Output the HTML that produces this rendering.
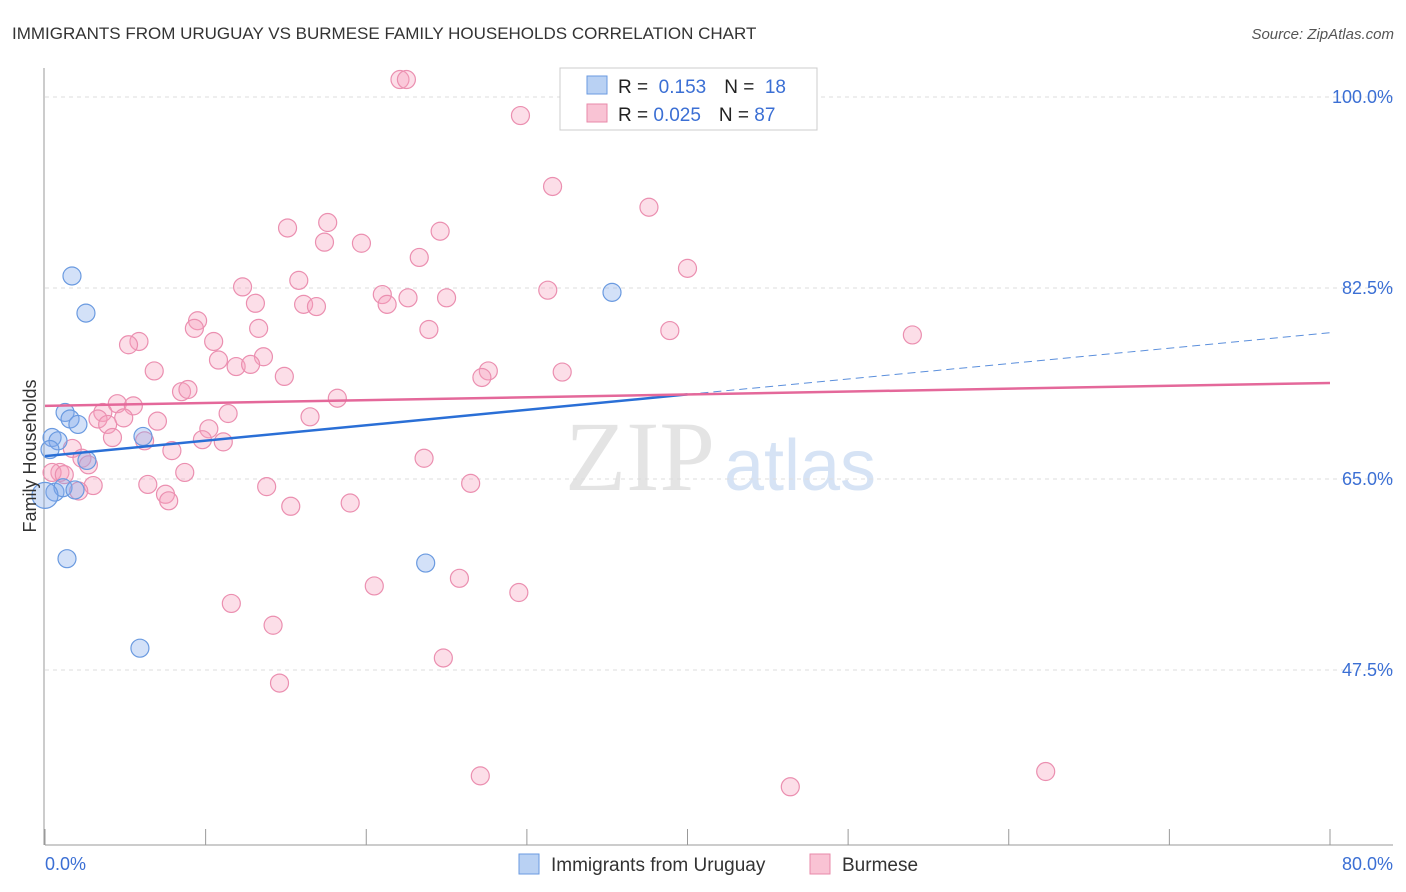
<!DOCTYPE html>
<html><head><meta charset="utf-8"><style>
body{margin:0;background:#fff;font-family:"Liberation Sans",sans-serif;}
#wrap{position:relative;width:1406px;height:892px;overflow:hidden;}
</style></head><body>
<div id="wrap">
<svg id="chart" width="1406" height="892" xmlns="http://www.w3.org/2000/svg">
<text x="12" y="39" font-size="17" fill="#333">IMMIGRANTS FROM URUGUAY VS BURMESE FAMILY HOUSEHOLDS CORRELATION CHART</text>
<text x="1394" y="39" font-size="15" fill="#555" font-style="italic" text-anchor="end">Source: ZipAtlas.com</text>
<text x="640" y="490" font-size="100" fill="#e4e4e4" font-family="Liberation Serif" text-anchor="middle">ZIP</text>
<text x="800" y="490" font-size="72" fill="#d6e3f5" text-anchor="middle">atlas</text>
<g id="grid"></g><g id="axes"></g><g id="pts"></g><g id="trend"></g>
<text x="36" y="456" font-size="18" fill="#333" text-anchor="middle" transform="rotate(-90 36 456)">Family Households</text>
<g>
<rect x="560" y="68" width="257" height="62" fill="#fff" stroke="#ccc"/>
<rect x="587" y="76" width="20" height="18" fill="#b9d1f3" stroke="#6a9ae0"/>
<rect x="587" y="104" width="20" height="18" fill="#f9c3d4" stroke="#e88aaa"/>
<text x="618" y="93" font-size="19" fill="#222">R = <tspan fill="#3b6fd4">&#160;0.153</tspan><tspan dx="18">N = </tspan><tspan fill="#3b6fd4">&#160;18</tspan></text>
<text x="618" y="121" font-size="19" fill="#222">R = <tspan fill="#3b6fd4">0.025</tspan><tspan dx="18">N = </tspan><tspan fill="#3b6fd4">87</tspan></text>
</g>
<g>
<rect x="519" y="854" width="20" height="20" fill="#b9d1f3" stroke="#6a9ae0"/>
<text x="551" y="871" font-size="19" fill="#333">Immigrants from Uruguay</text>
<rect x="810" y="854" width="20" height="20" fill="#f9c3d4" stroke="#e88aaa"/>
<text x="842" y="871" font-size="19" fill="#333">Burmese</text>
</g>
</svg>
</div>
<script>
const blueX=[1.68,2.55,1.25,1.56,2.05,0.44,0.81,6.10,2.61,0.31,0.62,1.12,1.87,0,1.37,5.91,35.3,23.7];
const blueY=[83.6,80.2,71.1,70.5,70.0,68.8,68.5,68.9,66.7,67.7,63.8,64.2,64.0,63.5,57.7,49.5,82.1,57.3];
const pinkX=[22.1,22.5,29.6,31.6,37.6,15.1,17.6,17.4,19.7,24.6,23.3,40.0,15.8,12.3,21.0,22.6,25.0,31.3,16.1,16.9,21.3,13.1,9.5,9.3,13.3,23.9,38.9,54.0,5.85,5.2,10.5,10.8,13.6,11.9,12.8,6.8,14.9,27.6,27.2,32.2,8.5,8.9,18.2,4.5,5.5,3.6,11.4,3.3,4.9,7.0,16.5,3.9,4.2,10.2,6.2,9.8,11.1,7.9,1.7,2.3,2.7,23.6,8.7,0.93,0.44,1.2,3.0,6.4,26.5,13.8,7.5,2.1,7.7,15.3,19.0,20.5,25.8,29.5,11.6,14.2,24.8,14.6,27.1,46.4,62.3];
const pinkY=[101.6,101.6,98.3,91.8,89.9,88.0,88.5,86.7,86.6,87.7,85.3,84.3,83.2,82.6,81.9,81.6,81.6,82.3,81.0,80.8,81.0,81.1,79.5,78.8,78.8,78.7,78.6,78.2,77.6,77.3,77.6,75.9,76.2,75.3,75.5,74.9,74.4,74.9,74.3,74.8,73.0,73.2,72.4,71.9,71.7,71.1,71.0,70.5,70.6,70.3,70.7,70.0,68.8,69.6,68.5,68.6,68.4,67.6,67.8,66.9,66.3,66.9,65.6,65.6,65.6,65.4,64.4,64.5,64.6,64.3,63.6,63.9,63.0,62.5,62.8,55.2,55.9,54.6,53.6,51.6,48.6,46.3,37.8,36.8,38.2];
const blueTrendY=[67.1,78.4];
const pinkTrendY=[71.7,73.8];
const yTicks=[100,82.5,65,47.5];
const yTickLabels=["100.0%","82.5%","65.0%","47.5%"];
const xTicks=[0,10,20,30,40,50,60,70,80];
const NS="http://www.w3.org/2000/svg";
const sx=v=>45+v*1285/80;
const sy=v=>97+(100-v)*191/17.5;
function mk(tag,attrs,parent){const e=document.createElementNS(NS,tag);for(const k in attrs)e.setAttribute(k,attrs[k]);parent.appendChild(e);return e;}
const grid=document.getElementById('grid'),axes=document.getElementById('axes'),pts=document.getElementById('pts'),trend=document.getElementById('trend');
yTicks.forEach((t,i)=>{
 const l=mk('line',{x1:45,x2:1393,y1:sy(t),y2:sy(t),stroke:'#ddd','stroke-dasharray':'4,4'},grid);
 
 
 const tx=mk('text',{x:1393,y:sy(t)+6,'font-size':18,fill:'#3b6fd4','text-anchor':'end'},grid);
 tx.textContent=yTickLabels[i];
 
 
});
mk('line',{x1:44,x2:44,y1:68,y2:845,stroke:'#999'},axes);
mk('line',{x1:45,x2:1393,y1:845,y2:845,stroke:'#999'},axes);
for(let v=0;v<=80;v+=10){
 const tk=mk('line',{x1:sx(v),x2:sx(v),y1:829,y2:845,stroke:'#999'},axes);
 
 
}
const xl0=mk('text',{x:45,y:870,'font-size':18,fill:'#3b6fd4'},axes);xl0.textContent='0.0%';


const xl1=mk('text',{x:1393,y:870,'font-size':18,fill:'#3b6fd4','text-anchor':'end'},axes);xl1.textContent='80.0%';


pinkX.forEach((x,i)=>{
 const c=mk('circle',{cx:sx(x),cy:sy(pinkY[i]),r:9,fill:'rgba(245,160,190,0.35)',stroke:'#eb8fb0','stroke-width':1.2},pts);
 
 
});
blueX.forEach((x,i)=>{
 const c=mk('circle',{cx:sx(x),cy:sy(blueY[i]),r:x===0?13:9,fill:'rgba(130,170,235,0.35)',stroke:'#6a9ae0','stroke-width':1.2},pts);
 
 
});
const bMid=blueTrendY[0]+(blueTrendY[1]-blueTrendY[0])*40/80;
const b1=mk('line',{x1:sx(0),y1:sy(blueTrendY[0]),x2:sx(40),y2:sy(bMid),stroke:'#2a6fd6','stroke-width':2.5},trend);


const b2=mk('line',{x1:sx(40),y1:sy(bMid),x2:sx(80),y2:sy(blueTrendY[1]),stroke:'#5b8fdc','stroke-width':1,'stroke-dasharray':'8,5'},trend);


const p1=mk('line',{x1:sx(0),y1:sy(pinkTrendY[0]),x2:sx(80),y2:sy(pinkTrendY[1]),stroke:'#e4689a','stroke-width':2.5},trend);


</script>
</body></html>
